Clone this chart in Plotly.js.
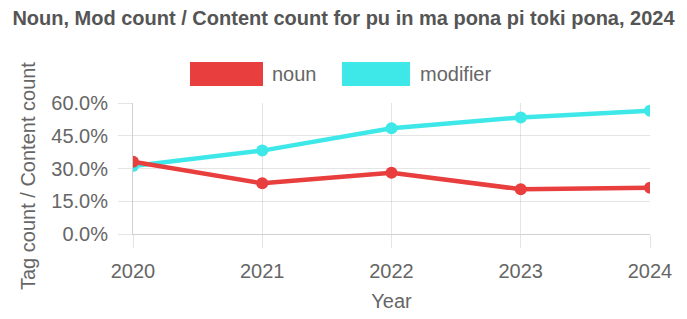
<!DOCTYPE html>
<html>
<head>
<meta charset="utf-8">
<script src="https://cdn.plot.ly/plotly-3.0.1.min.js"></script>
<style>html,body{margin:0;padding:0;background:#fff;}#chart{width:687px;height:319px;}</style>
</head>
<body>
<div id="chart"></div>
<script>
const years = [2020, 2021, 2022, 2023, 2024];
const nounShare = [0.331, 0.232, 0.281, 0.205, 0.212];
const modifierShare = [0.311, 0.382, 0.484, 0.534, 0.565];
const yTicks = [0, 0.15, 0.30, 0.45, 0.60];
const seriesNames = ['noun', 'modifier'];
const seriesColors = ['rgb(232,62,62)', 'rgb(62,232,232)'];
const yTitle = 'Tag count / Content count';

const FONT = 'Liberation Sans, Arial, Helvetica, sans-serif';
const GRID = 'rgba(0,0,0,0.1)';

const traces = [
  {x: years, y: modifierShare, name: seriesNames[1], type: 'scatter', mode: 'lines+markers',
   line: {color: seriesColors[1], width: 4.5}, marker: {color: seriesColors[1], size: 12}, showlegend: false},
  {x: years, y: nounShare, name: seriesNames[0], type: 'scatter', mode: 'lines+markers',
   line: {color: seriesColors[0], width: 4.5}, marker: {color: seriesColors[0], size: 12}, showlegend: false}
];

// manual Chart.js-style legend boxes
const shapes = [
  {type: 'rect', xref: 'paper', yref: 'paper', x0: (190-133)/517, x1: (263-133)/517, y0: (234-86)/131, y1: (234-62)/131,
   fillcolor: seriesColors[0], line: {width: 0}},
  {type: 'rect', xref: 'paper', yref: 'paper', x0: (342-133)/517, x1: (410-133)/517, y0: (234-86)/131, y1: (234-62)/131,
   fillcolor: seriesColors[1], line: {width: 0}}
];
const annotations = [
  {xref: 'paper', yref: 'paper', x: (270-133)/517, y: (234-74)/131, xanchor: 'left', yanchor: 'middle',
   text: seriesNames[0], showarrow: false, font: {family: FONT, size: 20, color: '#666'}},
  {xref: 'paper', yref: 'paper', x: (418-133)/517, y: (234-74)/131, xanchor: 'left', yanchor: 'middle',
   text: seriesNames[1], showarrow: false, font: {family: FONT, size: 20, color: '#666'}},
  {xref: 'paper', yref: 'paper', x: (28-133)/517, y: (234-176)/131, xanchor: 'center', yanchor: 'middle',
   text: yTitle, textangle: -90, showarrow: false, font: {family: FONT, size: 20, color: '#666'}}
];

const layout = {
  width: 687, height: 319,
  margin: {l: 133, r: 37, t: 103, b: 85},
  paper_bgcolor: '#fff', plot_bgcolor: '#fff',
  font: {family: FONT, size: 20, color: '#666'},
  title: {text: '<b>Noun, Mod count / Content count for pu in ma pona pi toki pona, 2024</b>',
          x: 0.5, xanchor: 'center', y: 0.945, yanchor: 'middle',
          font: {family: FONT, size: 20, color: '#555'}},
  showlegend: false,
  xaxis: {
    range: [2020, 2024], tickvals: years, ticktext: years.map(String),
    showgrid: true, gridcolor: GRID, gridwidth: 1,
    ticks: 'outside', ticklen: 13, tickcolor: GRID, tickwidth: 1,
    showline: true, linecolor: 'rgba(0,0,0,0.18)', linewidth: 1,
    zeroline: false, ticklabelstandoff: 6,
    tickfont: {family: FONT, size: 20, color: '#666'},
    title: {text: 'Year', font: {family: FONT, size: 20, color: '#666'}, standoff: 12}
  },
  yaxis: {
    range: [0, 0.6], tickvals: yTicks, tickformat: '.1%',
    showgrid: true, gridcolor: GRID, gridwidth: 1,
    ticks: 'outside', ticklen: 14, tickcolor: GRID, tickwidth: 1,
    showline: true, linecolor: 'rgba(0,0,0,0.18)', linewidth: 1,
    zeroline: false, ticklabelstandoff: 6,
    tickfont: {family: FONT, size: 20, color: '#666'}
  },
  shapes: shapes,
  annotations: annotations
};

Plotly.newPlot('chart', traces, layout, {displayModeBar: false, responsive: false});
</script>
</body>
</html>
